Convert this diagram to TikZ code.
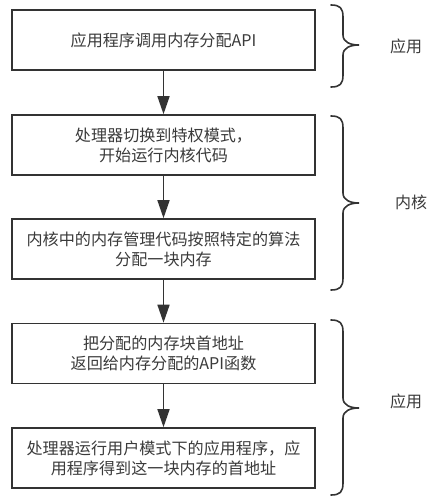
\documentclass[tikz,border=0pt]{standalone}
\usepackage{fontspec}
\setmainfont{Noto Sans CJK SC}
\usetikzlibrary{arrows.meta}
\definecolor{ink}{HTML}{333333}
\definecolor{txt}{HTML}{3A3A3A}
\newcommand\mybrace[4]{% name, top y, tip y, bottom y
  \draw[bracestyle] (331,#2) .. controls (340,#2) and (343,#2+3) .. (343,#2+12)
    -- (343,#3-10) .. controls (343,#3-3) and (350,#3) .. (359,#3)
    .. controls (350,#3) and (343,#3+3) .. (343,#3+10)
    -- (343,#4-12) .. controls (343,#4-3) and (340,#4) .. (331,#4);
  \coordinate (#1) at (359,#3);
}
\begin{document}
\begin{tikzpicture}[x=1bp,y=-1bp,
  box/.style={draw=ink,line width=1.6bp,minimum width=303bp,minimum height=60bp,
    inner sep=0pt,align=center,text=txt,font=\fontsize{16.1bp}{20bp}\selectfont},
  flow/.style={draw=ink,line width=1.6bp,-{Triangle[width=12bp,length=18bp]}},
  bracestyle/.style={draw=ink,line width=1.6bp,line cap=round},
  lab/.style={text=txt,font=\fontsize{16bp}{20bp}\selectfont,inner sep=0pt}]
\useasboundingbox (0,0) rectangle (435,502);
\node[box] (b1) at (163.5,40) {应用程序调用内存分配API};
\node[box] (b2) at (163.5,145) {处理器切换到特权模式，\\开始运行内核代码};
\node[box] (b3) at (163.5,249) {内核中的内存管理代码按照特定的算法\\分配一块内存};
\node[box] (b4) at (163.5,353.5) {把分配的内存块首地址\\返回给内存分配的API函数};
\node[box] (b5) at (163.5,458) {处理器运行用户模式下的应用程序，应\\用程序得到这一块内存的首地址};
\draw[flow] (b1.south) -- (b2.north);
\draw[flow] (b2.south) -- (b3.north);
\draw[flow] (b3.south) -- (b4.north);
\draw[flow] (b4.south) -- (b5.north);
\mybrace{t1}{5}{45}{87}
\mybrace{t2}{116}{203}{290}
\mybrace{t3}{320}{408}{495}
\node[lab] (l1) at (406,46) {应用};
\node[lab] (l2) at (411,202) {内核};
\node[lab] (l3) at (406,401) {应用};
\end{tikzpicture}
\end{document}
